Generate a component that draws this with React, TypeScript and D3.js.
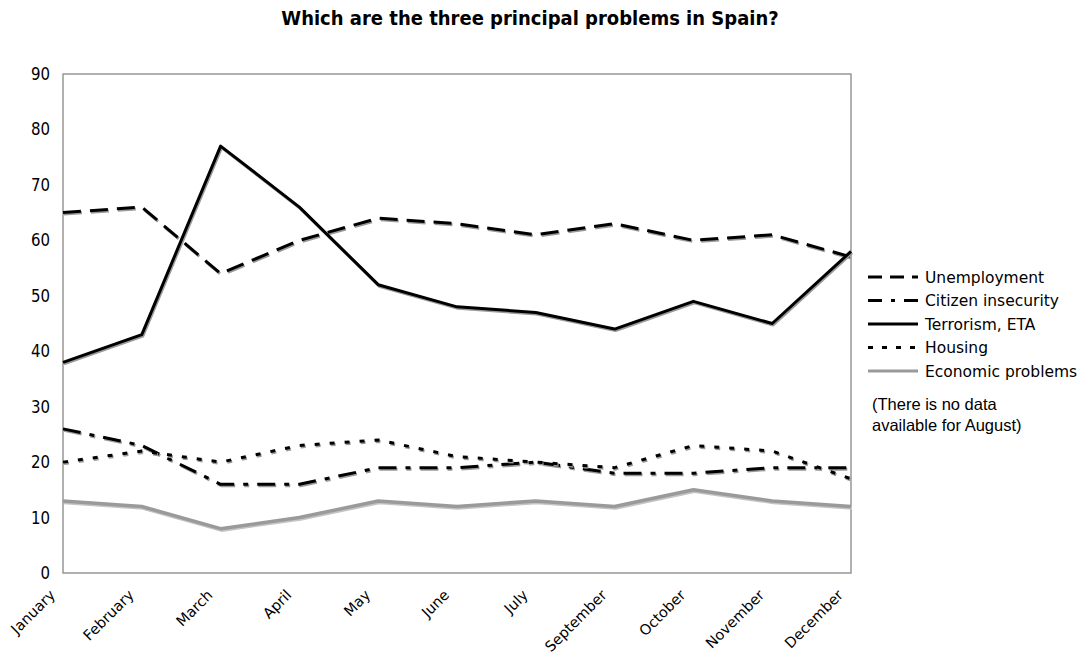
import React from "react";
import * as d3 from "d3";

const months = ["January","February","March","April","May","June","July","September","October","November","December"];
const unemployment = [65, 66, 54, 60, 64, 63, 61, 63, 60, 61, 57];
const citizenInsecurity = [26, 23, 16, 16, 19, 19, 20, 18, 18, 19, 19];
const terrorism = [38, 43, 77, 66, 52, 48, 47, 44, 49, 45, 58];
const housing = [20, 22, 20, 23, 24, 21, 20, 19, 23, 22, 17];
const economic = [13, 12, 8, 10, 13, 12, 13, 12, 15, 13, 12];
const yTicks = [0, 10, 20, 30, 40, 50, 60, 70, 80, 90];

const seriesList = [
  { name: "Unemployment", values: unemployment, color: "#000", dash: "18,9", legendDash: "14,8", width: 3 },
  { name: "Citizen insecurity", values: citizenInsecurity, color: "#000", dash: "18,9,5,9", legendDash: "14,9,4,9", width: 3 },
  { name: "Terrorism, ETA", values: terrorism, color: "#000", dash: "", legendDash: "", width: 3 },
  { name: "Housing", values: housing, color: "#000", dash: "5,10", legendDash: "5,9", width: 3 },
  { name: "Economic problems", values: economic, color: "#9a9a9a", dash: "", legendDash: "", width: 3.5 },
];

export default function App() {
  const W = 1081, H = 656;
  const left = 63, right = 851, top = 74, bottom = 573;
  const x = d3.scalePoint<string>().domain(months).range([left, right]);
  const y = d3.scaleLinear().domain([0, 90]).range([bottom, top]);
  const line = d3.line<number>().x((_, i) => x(months[i]) as number).y(d => y(d));
  const font = "Verdana, 'DejaVu Sans', sans-serif";
  const arial = "Arial, 'Liberation Sans', sans-serif";
  return (
    <svg width={W} height={H} style={{ position: "absolute", left: 0, top: 0, background: "#fff" }}>
      <text transform="translate(530,25) scale(1,1.1)" textAnchor="middle" fontFamily={font} fontWeight="bold" fontSize={18}>
        Which are the three principal problems in Spain?
      </text>
      <rect x={left} y={top} width={right - left} height={bottom - top} fill="none" stroke="#888" strokeWidth={1.3} />
      {yTicks.map(t => (
        <text key={t} transform={`translate(50,${y(t) + 6}) scale(1,1.12)`} textAnchor="end" fontFamily={font} fontSize={15}>{t}</text>
      ))}
      {months.map(m => (
        <text key={m} transform={`translate(${(x(m) as number) - 7},${bottom + 23}) rotate(-45)`} textAnchor="end"
          fontFamily={font} fontSize={14.5}>{m}</text>
      ))}
      {seriesList.map(s => (
        <g key={s.name}>
          <path d={line(s.values) || ""} fill="none" stroke={s.color === "#000" ? "#9a9a9a" : "#c4c4c4"}
            strokeWidth={s.width} strokeDasharray={s.dash} transform="translate(1,1.5)" strokeLinejoin="round" />
          <path d={line(s.values) || ""} fill="none" stroke={s.color} strokeWidth={s.width} strokeDasharray={s.dash} strokeLinejoin="round" />
        </g>
      ))}
      {seriesList.map((s, i) => {
        const ly = 277 + i * 23.5;
        return (
          <g key={s.name}>
            <line x1={868} x2={918} y1={ly} y2={ly} stroke={s.color} strokeWidth={3} strokeDasharray={s.legendDash} />
            <text x={925} y={ly + 5.5} fontFamily={font} fontSize={15.5}>{s.name}</text>
          </g>
        );
      })}
      <text x={872} y={410} fontFamily={arial} fontSize={16.5}>(There is no data</text>
      <text x={872} y={431} fontFamily={arial} fontSize={16.5}>available for August)</text>
    </svg>
  );
}
